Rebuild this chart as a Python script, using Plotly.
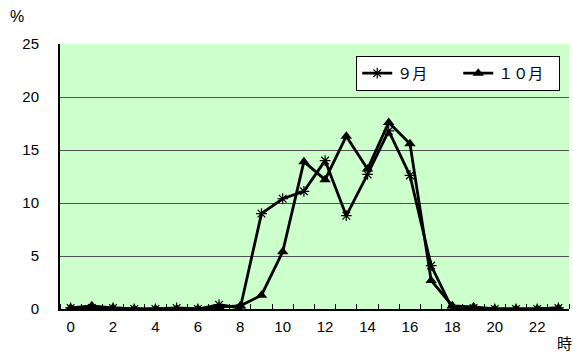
import plotly.graph_objects as go

# Hourly share (%) by month
hours = list(range(24))
sep = [0.1, 0.1, 0.1, 0.0, 0.0, 0.1, 0.0, 0.4, 0.1, 9.0, 10.4, 11.1,
       14.0, 8.8, 12.7, 16.8, 12.6, 4.1, 0.0, 0.1, 0.0, 0.0, 0.0, 0.1]
oct_ = [0.1, 0.3, 0.1, 0.0, 0.0, 0.0, 0.0, 0.2, 0.3, 1.3, 5.4, 13.9,
        12.2, 16.3, 13.2, 17.6, 15.6, 2.7, 0.3, 0.2, 0.0, 0.0, 0.0, 0.1]
x_ticks = list(range(0, 23, 2))
y_ticks = [0, 5, 10, 15, 20, 25]

FONT = "Arial, Liberation Sans, Noto Sans CJK JP"
CJK = "Noto Sans CJK JP"

fig = go.Figure()
fig.add_trace(go.Scatter(
    x=hours, y=sep, name="９月", mode="lines+markers",
    line=dict(color="black", width=2.8),
    marker=dict(symbol="asterisk-open", size=9, color="black",
                line=dict(color="black", width=1.2)),
))
fig.add_trace(go.Scatter(
    x=hours, y=oct_, name="１０月", mode="lines+markers",
    line=dict(color="black", width=2.8),
    marker=dict(symbol="triangle-up", size=10, color="black"),
))

fig.update_layout(
    width=573, height=354,
    margin=dict(l=60, r=4, t=44, b=45, autoexpand=False),
    paper_bgcolor="white",
    plot_bgcolor="#CCFFCC",
    font=dict(family=FONT, size=15, color="black"),
    showlegend=True,
    legend=dict(
        orientation="h", x=0.582, y=0.955, xanchor="left", yanchor="top",
        bgcolor="white", bordercolor="black", borderwidth=1,
        font=dict(family=CJK, size=15, color="black"),
        entrywidth=56, itemwidth=30, tracegroupgap=0,
    ),
    xaxis=dict(
        range=[-0.5, 23.5], tickvals=x_ticks, ticktext=[str(v) for v in x_ticks],
        ticks="", showgrid=False, zeroline=False,
        showline=True, linecolor="black", linewidth=2,
        minor=dict(tick0=-0.5, dtick=1, ticks="inside", ticklen=5,
                   tickcolor="black", tickwidth=1, showgrid=False),
        tickfont=dict(size=15), ticklabelstandoff=3,
    ),
    yaxis=dict(
        range=[0, 25], tickvals=y_ticks, ticks="", showgrid=True,
        gridcolor="#505050", gridwidth=1, zeroline=False,
        showline=True, linecolor="black", linewidth=2,
        tickfont=dict(size=15), ticklabelstandoff=16,
    ),
    annotations=[
        dict(text="%", x=-0.0845, y=1.103, xref="paper", yref="paper",
             xanchor="center", yanchor="middle", showarrow=False,
             font=dict(size=16)),
        dict(text="時", x=0.992, y=-0.128, xref="paper", yref="paper",
             xanchor="center", yanchor="middle", showarrow=False,
             font=dict(family=CJK, size=15)),
    ],
)

fig.write_html("out.html")
